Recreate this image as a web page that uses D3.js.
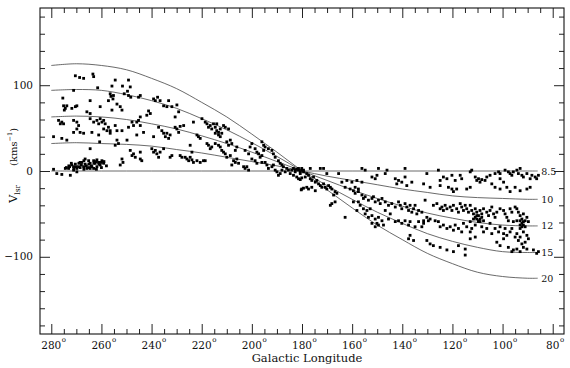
<!DOCTYPE html>
<html>
<head>
<meta charset="utf-8">
<script src="https://cdn.jsdelivr.net/npm/d3@7"></script>
<style>
body { margin: 0; background: #fff; }
text { font-family: "DejaVu Serif", serif; fill: #111; }
</style>
</head>
<body>
<div id="graf"></div>
<script>
// I. Datos

lonTicks = d3.range(80, 281, 20)
lonMinor = d3.range(80, 281, 5).filter(d => d % 20 != 0)
vTicks = [-100, 0, 100]
vMinor = d3.range(-180, 181, 20).filter(d => d % 100 != 0)

// curvas de rotacion (radio galactocentrico, kpc)
radios = ['8.5', '10', '12', '15', '20']
curvaLon = [280, 270, 260, 250, 240, 230, 220, 210, 200, 190, 180, 170, 160, 150, 140, 130, 120, 110, 100, 90, 86]
curva85 = [0, 0, 0, 0, 0, 0, 0, 0, 0, 0, 0, 0, 0, 0, 0, 0, 0, 0, 0, 0, 0]
curva10 = [32, 33, 32, 31, 29, 25, 21, 16, 11, 6, 0, -6, -11, -16, -21, -25, -29, -31, -32, -33, -33]
curva12 = [63, 64, 63, 60, 55, 49, 41, 32, 22, 11, 0, -11, -22, -32, -41, -49, -55, -60, -63, -64, -64]
curva15 = [94, 95, 94, 89, 82, 73, 61, 48, 33, 17, 0, -17, -33, -48, -61, -73, -82, -89, -94, -95, -95]
curva20 = [123, 125, 123, 118, 108, 96, 80, 63, 43, 22, 0, -22, -43, -63, -80, -96, -108, -118, -123, -125, -125]

// puntos [longitud, V_lsr]
puntosOeste = [[270.4,111],[268.7,109],[267.1,108],[263.4,113],[263.1,110],[254.5,106],[255.8,99],[251.6,99],[249.2,106],[248.5,98],[249.6,93],[250.9,90],[261.5,97],[271.1,94],[256.5,90],[256.2,87],[255.4,84],[255.2,88],[257.2,82],[249.2,88],[248.3,86],[245.2,86],[244.5,88],[239.2,84],[238.5,82],[237.6,86],[236.6,82],[275.4,85],[264.5,82],[275.1,76],[274.4,73],[274.8,71],[273.8,76],[271.8,73],[270.4,75],[269.8,76],[265.8,69],[264.5,67],[260.5,75],[255.8,71],[253.8,78],[252.5,75],[251.8,71],[241.2,70],[240.5,67],[241.9,65],[244.5,63],[245.9,57],[235.2,76],[233.9,75],[277.1,59],[275.8,57],[275.1,55],[276.4,55],[271.1,59],[269.8,57],[269.1,53],[264.5,61],[263.1,57],[261.8,59],[261.1,55],[260.5,61],[259.8,57],[259.1,59],[258.5,55],[257.2,51],[256.5,47],[254.5,53],[253.8,47],[251.8,47],[249.2,51],[247.8,57],[247.2,53],[244.5,53],[245.2,59],[237.2,51],[235.9,47],[279.1,40],[275.8,38],[273.8,36],[271.1,45],[269.8,49],[268.5,45],[267.1,44],[263.8,45],[261.1,42],[259.1,49],[257.8,47],[256.5,44],[253.8,36],[253.2,32],[254.5,30],[249.8,36],[245.9,42],[243.2,45],[239.2,40],[235.2,44],[233.2,38],[264.5,26],[260.7,34],[248.5,24],[247.8,18],[247.2,20],[246.5,16],[244.5,22],[244.5,14],[239.9,26],[239.2,22],[238.5,24],[237.9,20],[237.2,16],[236.6,22],[235.2,26],[251.8,14],[251.4,10],[252.5,7],[243.9,12]]

puntosCumulo = [[279.1,2],[277.8,-3],[275.8,-4],[274.4,3],[272.4,-5],[272.7,5],[271.8,7],[271.1,5],[270.4,8],[269.8,3],[269.1,5],[268.5,4],[267.8,10],[267.1,5],[266.5,8],[265.8,3],[265.1,12],[264.5,9],[263.8,5],[263.1,12],[262.5,9],[261.8,13],[261.1,10],[260.5,7],[259.8,12],[259.1,9],[261.8,5],[263.1,3],[264.5,3],[271.1,1],[269.8,-1],[268.5,10],[266.5,14],[273.1,3],[266,6],[267,12],[265,8],[264,6],[262,11],[261,8],[260,4],[259,11],[263,9],[268,7],[270,5],[271,3],[272,9],[273,6],[274,4],[269,9],[267,2],[265,4],[262,2],[260,10],[258,6]]

puntosAnti = [[233.2,82],[231.9,75],[229.9,77],[229.2,69],[230.6,63],[233.9,44],[232.6,42],[234.5,40],[231.9,18],[232.6,16],[223.3,57],[219.9,61],[218.6,57],[217.9,55],[217.3,51],[216.6,53],[216,49],[215.3,55],[214.6,51],[214,47],[213.3,45],[212.6,49],[212,44],[211.3,53],[210.6,51],[213.3,42],[214.6,44],[212.6,40],[214,55],[230.6,51],[229.9,49],[228.6,52],[227.2,53],[229.2,45],[221.3,40],[221.9,42],[220.6,38],[209.3,49],[208.6,36],[210,34],[209.3,30],[208,32],[206,28],[206.6,24],[207.3,12],[206,14],[206.6,10],[208,7],[205.3,9],[203.3,5],[202.7,3],[202,5],[201.3,1],[224.6,30],[223.9,22],[226.6,16],[225.9,14],[225.2,12],[224.6,16],[223.9,13],[223.3,10],[221.9,12],[220.6,10],[219.3,12],[218.6,12],[228.6,18],[227.9,16],[217.9,32],[217.3,30],[216,28],[216.6,26],[214.6,32],[213.3,30],[212.6,28],[212,24],[211.3,22],[210.6,20],[208.6,18],[210,16],[202.7,24],[201.3,20],[200.7,28],[200,32],[198.7,26],[198,22],[197.3,20],[196.7,16],[196,18],[195.3,24],[194.7,28],[193.4,26],[192,24],[191.4,20],[190.7,16],[189.4,12],[188.7,9],[188,7],[187.4,5],[188,1],[188.7,-3],[189.4,-5],[186.7,-1],[186.1,3],[185.4,1],[196,34],[195.3,30],[200,14],[198.7,12],[198,9],[196,10],[194.7,10],[194,7],[193.4,3],[192,5],[191.4,7],[190.7,1],[190,-1],[184.1,1],[183.4,3],[182.7,-1],[182.1,2],[181.4,1],[180.7,-1],[180.1,3],[179.4,1],[184.7,-3],[183.4,-5],[182.1,-7],[181.4,-9],[180.7,-10],[180.1,-8],[180.3,-22],[179.4,-20]]

puntosCentro = [[182.7,1],[181.4,3],[180.1,1],[180.7,-3],[179.4,-1],[178.1,-3],[178.7,-7],[177.4,-5],[176.7,-9],[176.1,-11],[175.4,-7],[174.7,-13],[174.1,-11],[173.4,-15],[172.7,-17],[172.1,-19],[171.4,-15],[170.7,-19],[170.1,-21],[169.4,-17],[168.7,-19],[168.1,-21],[166.8,-24],[166.1,-26],[167.4,-28],[168.1,-38],[168.7,-40],[166.8,-36],[176.7,3],[172.7,3],[171.4,3],[170.1,-3],[165.4,-3],[164.1,-13],[162.8,-54],[180.1,-21],[178.1,-19],[177.4,-21],[176.1,-19],[174.7,-23],[156.1,3],[154.8,1],[149.5,3],[152.1,-7],[150.8,-9],[150.1,-5],[146.8,-3],[146.1,1],[142.8,-9],[141.5,-11],[142.2,-15],[140.2,-13],[138.9,-7],[138.2,-17],[136.2,-13],[138.9,3],[162.1,-11],[160.1,-13],[158.1,-11],[156.1,-13],[158.8,-19],[157.5,-21],[162.8,-19],[160.8,-21],[159.5,-23],[158.8,-26],[157.5,-24],[156.1,-28],[155.5,-32],[154.8,-30],[153.5,-34],[152.1,-32],[151.5,-30],[150.8,-36],[149.5,-34],[148.8,-38],[148.1,-32],[146.8,-36],[145.5,-40],[144.2,-38],[142.8,-42],[141.5,-36],[140.8,-40],[140.2,-44],[138.9,-38],[138.2,-42],[137.5,-46],[136.9,-40],[136.2,-48],[135.5,-44],[134.9,-40],[134.2,-50],[133.5,-46],[132.2,-48],[157.5,-36],[156.8,-40],[155.5,-44],[154.1,-46],[152.8,-44],[154.8,-50],[153.5,-54],[152.1,-52],[150.8,-56],[149.5,-54],[148.1,-58],[146.8,-46],[144.8,-50],[145.5,-56],[142.8,-59],[141.5,-58],[140.2,-61],[138.9,-58],[137.5,-63],[136.9,-59],[134.9,-65],[133.5,-59],[159.5,-36],[158.1,-46],[152.1,-61],[150.8,-65],[149.5,-63],[147.5,-63],[136.9,-75],[135.5,-81],[132.2,-65],[131.5,-58],[150.1,-61],[137.5,-79]]

puntosEste = [[130.2,-3],[125.6,1],[124.9,-11],[123.6,-7],[122.2,-9],[120.2,-5],[118.9,-11],[116.9,-5],[116.3,-9],[112.9,-1],[112.3,1],[110.9,-7],[110.3,-11],[109.6,-9],[109,-13],[108.3,-10],[107,-11],[106.3,-7],[105,-5],[103,-3],[101.6,-1],[101,-3],[99,1],[97.7,-1],[97,-3],[96.3,-5],[95.7,-1],[94.3,1],[93.7,-3],[93,3],[92.3,-5],[91.7,-7],[90.3,-3],[89,-9],[88.3,-5],[87,-7],[86.4,-9],[85.7,-5],[101,-9],[99.6,-13],
[131.5,-15],[128.9,-19],[124.9,-17],[121.6,-19],[120.2,-21],[118.3,-21],[119.6,-24],[114.3,-21],[112.9,-19],[104.3,-15],[103,-19],[101,-21],[98.3,-19],[95,-19],[93,-23],[90.3,-21],[89,-19],[97,-24],
[130.9,-34],[127.6,-40],[126.2,-38],[124.9,-44],[124.2,-42],[123.6,-46],[122.9,-40],[122.2,-44],[120.9,-42],[120.2,-46],[119.6,-40],[118.3,-44],[117.6,-48],[116.9,-38],[116.3,-42],[115.6,-46],[114.9,-40],[114.3,-44],[113.6,-48],[112.9,-40],[112.3,-46],[111.6,-50],[110.9,-44],[110.3,-48],[109.6,-52],[109,-46],[108.3,-50],[107.6,-44],[106.3,-48],[105.6,-52],[105,-46],[104.3,-42],[103.6,-50],[103,-54],[102.3,-48],[101,-44],[99.6,-46],[99,-50],[98.3,-54],[97,-44],[96.3,-48],[95,-42],[94.3,-44],[93.7,-48],[93,-52],[92.3,-56],[91.7,-50],[91,-58],[90.3,-54],[89.7,-59],[94.3,-58],[93,-63],[95.7,-59],[97.7,-58],
[130.2,-54],[129.6,-58],[128.9,-56],[131.5,-61],[126.9,-58],[125.6,-59],[124.9,-65],[123.6,-63],[122.2,-67],[120.9,-65],[119.6,-69],[118.9,-63],[117.6,-67],[116.3,-71],[115.6,-61],[114.3,-65],[112.9,-59],[112.3,-67],[110.9,-63],[109.6,-59],[108.3,-65],[107.6,-71],[106.3,-67],[105,-61],[104.3,-73],[103,-67],[101.6,-71],[101,-65],[99.6,-73],[99,-67],[98.3,-75],[97,-71],[96.3,-67],[95,-77],[94.3,-73],[93.7,-81],[93,-77],[91.7,-71],[92.3,-85],[91,-83],[90.3,-75],[89.7,-79],
[130.2,-81],[128.9,-85],[127.6,-87],[124.9,-89],[122.2,-92],[119.6,-94],[114.9,-98],[114.9,-91],[117.6,-87],[102.3,-83],[101,-87],[99.6,-79],[97.7,-89],[96.3,-94],[95.7,-92],[94.3,-91],[93,-94],[91.7,-89],[90.3,-91],[87.7,-92],[86.4,-96],[85.7,-94],[112.9,-71],[112.9,-79],[110.9,-77],
[110.9,-54],[110.3,-56],[109,-56],[108.3,-54],[110.3,-52],[111.6,-56],[109.6,-58],[109,-59],[107.6,-58],[93,-58],[92.3,-61],[91.7,-63],[92.3,-65],[93,-67],[91.7,-59],[91,-65]]

// II. Configuracion

ancho_total = 570
alto_total = 368
caja = { left: 40, right: 564, top: 8, bottom: 334 }

svg = d3.select('#graf').append('svg')
        .attr('width', ancho_total)
        .attr('height', alto_total)

x = d3.scaleLinear().domain([284.5, 75.5]).range([caja.left, caja.right])
y = d3.scaleLinear().domain([-190, 190]).range([caja.bottom, caja.top])

// III. Ejes (marcas hacia dentro en los cuatro lados)

function marcas(eje, valores, largo, trans) {
        svg.append('g')
                .attr('transform', trans)
                .call(eje.tickValues(valores).tickSize(-largo).tickFormat(''))
                .call(g => g.select('.domain').remove())
                .selectAll('line').attr('stroke', '#222').attr('stroke-width', 1)
}
marcas(d3.axisBottom(x), lonTicks, 10, `translate(0,${caja.bottom})`)
marcas(d3.axisBottom(x), lonMinor, 5, `translate(0,${caja.bottom})`)
marcas(d3.axisTop(x), lonTicks, 10, `translate(0,${caja.top})`)
marcas(d3.axisTop(x), lonMinor, 5, `translate(0,${caja.top})`)
marcas(d3.axisLeft(y), vTicks, 10, `translate(${caja.left},0)`)
marcas(d3.axisLeft(y), vMinor, 5, `translate(${caja.left},0)`)
marcas(d3.axisRight(y), vTicks, 10, `translate(${caja.right},0)`)
marcas(d3.axisRight(y), vMinor, 5, `translate(${caja.right},0)`)

svg.append('rect')
        .attr('x', caja.left).attr('y', caja.top)
        .attr('width', caja.right - caja.left).attr('height', caja.bottom - caja.top)
        .attr('fill', 'none').attr('stroke', '#111').attr('stroke-width', 1.1)

// etiquetas de longitud con el grado
lonTicks.forEach(d => {
        t = svg.append('text')
                .attr('x', x(d)).attr('y', 349)
                .attr('text-anchor', 'middle')
                .style('font-size', '10.5px')
                .text(d)
        w = t.node().getComputedTextLength()
        svg.append('text')
                .attr('x', x(d) + w / 2 + 0.5).attr('y', 342)
                .style('font-size', '7px')
                .text('o')
})

vTicks.forEach(d => {
        svg.append('text')
                .attr('x', 33).attr('y', y(d) + 3.7)
                .attr('text-anchor', 'end')
                .style('font-size', '10.5px')
                .text(d < 0 ? '\u2212' + Math.abs(d) : d)
})

svg.append('text')
        .attr('x', 307).attr('y', 362)
        .attr('text-anchor', 'middle')
        .style('font-size', '11.5px')
        .text('Galactic Longitude')

vl = svg.append('text')
        .attr('transform', 'translate(17,203) rotate(-90)')
        .style('font-size', '11.5px')
vl.append('tspan').text('V')
vl.append('tspan').attr('dy', 3).style('font-size', '7.5px').text('lsr')

un = svg.append('text')
        .attr('transform', 'translate(17,166) rotate(-90)')
        .style('font-size', '10px')
un.append('tspan').text('(kms')
un.append('tspan').attr('dy', -5).style('font-size', '6.5px').text('\u22121')
un.append('tspan').attr('dy', 5).text(')')

// IV. Curvas

linea = d3.line()
        .x((d, i) => x(curvaLon[i]))
        .y(d => y(d))
        .curve(d3.curveCatmullRom)

curvas = [curva85, curva10, curva12, curva15, curva20]
curvas.forEach((c, k) => {
        svg.append('path')
                .datum(c)
                .attr('d', linea)
                .attr('fill', 'none')
                .attr('stroke', '#444')
                .attr('stroke-width', 0.8)
        svg.append('text')
                .attr('x', x(curvaLon[curvaLon.length - 1]) + 3.5)
                .attr('y', y(c[c.length - 1]) + 3.5)
                .style('font-size', '9.5px')
                .text(radios[k])
})

// V. Puntos

puntos = [].concat(puntosOeste, puntosCumulo, puntosAnti, puntosCentro, puntosEste)
lado = 2.8
svg.append('g')
        .selectAll('rect')
        .data(puntos)
        .join('rect')
        .attr('x', d => x(d[0]) - lado / 2)
        .attr('y', d => y(d[1]) - lado / 2)
        .attr('width', lado)
        .attr('height', lado)
        .attr('fill', '#000')
</script>
</body>
</html>
